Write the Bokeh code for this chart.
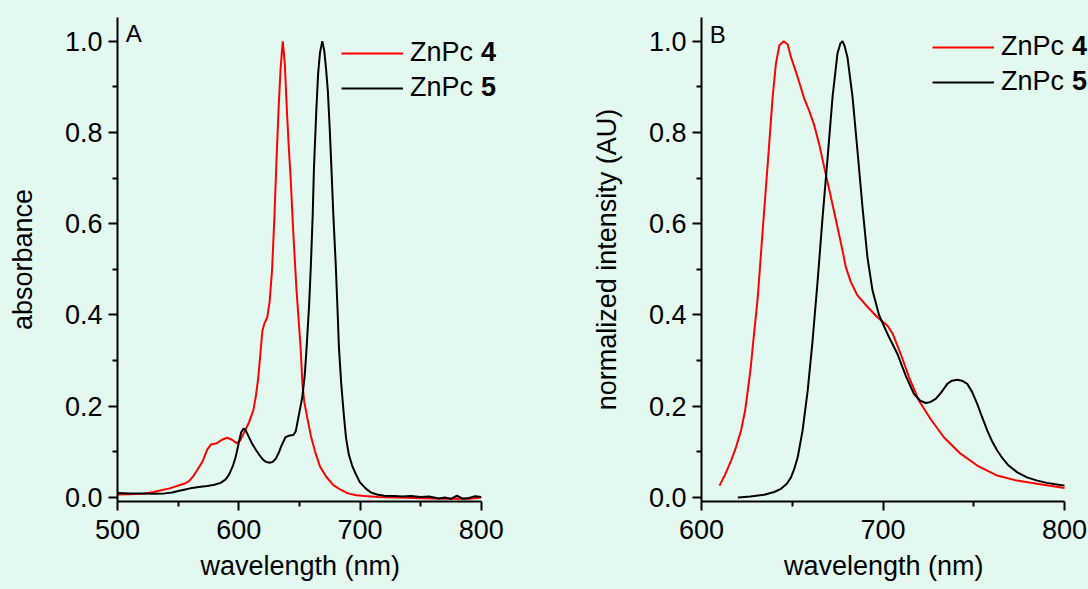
from bokeh.plotting import figure
from bokeh.models import FixedTicker, PrintfTickFormatter, Legend, LegendItem, Label, Range1d
from bokeh.layouts import row
from bokeh.embed import file_html
from bokeh.resources import INLINE

# ---------------- data ----------------
# Panel A: absorbance
abs_wl_4 = [500, 510, 521, 530, 536, 543, 549, 555, 559, 562, 565, 570, 574, 577, 582, 586.5, 590.5, 594,
            598.3, 601, 604, 608.5, 612, 614, 616, 618, 619.5, 621, 623.5, 625.5, 627.5, 629.5, 631, 633,
            634.5, 636.3, 638, 639.5, 641, 642.8, 645, 647.5, 651, 652.5, 654, 656.5, 659.5, 663, 667, 672,
            678, 684, 690, 697, 704, 715, 730, 745, 760, 770, 780, 790, 800]
abs_4 = [0.0066, 0.007, 0.008, 0.012, 0.016, 0.020, 0.025, 0.030, 0.036, 0.045, 0.057, 0.078, 0.105, 0.116,
         0.119, 0.127, 0.131, 0.127, 0.119, 0.124, 0.140, 0.165, 0.191, 0.220, 0.26, 0.32, 0.365, 0.38,
         0.395, 0.43, 0.50, 0.62, 0.73, 0.86, 0.94, 1.0, 0.95, 0.86, 0.78, 0.70, 0.58, 0.46, 0.33, 0.25,
         0.21, 0.175, 0.135, 0.10, 0.068, 0.046, 0.027, 0.017, 0.009, 0.005, 0.003, 0.001, 0.0, -0.001,
         -0.002, -0.003, -0.002, -0.003, 0.0]

abs_wl_5 = [500, 510, 521, 530, 539, 545, 550, 555, 560, 567, 574, 580, 585, 589, 592, 595, 597.5, 600, 602,
            604, 605.5, 607, 611, 614, 617, 620, 622.5, 625.5, 628, 630.5, 633, 635, 638.5, 642, 645, 647,
            649.5, 652.4, 654.5, 656, 658, 659.5, 661, 662, 664, 665.5, 667, 668.9, 670.5, 672, 673.5, 675,
            676.3, 678, 680, 681.5, 682.6, 684.5, 686.7, 688.5, 690.8, 693.5, 696.4, 700, 704.6, 709, 714,
            720, 728, 735, 742, 750, 757, 765, 770, 775, 780, 785, 790, 795, 800]
abs_5 = [0.010, 0.009, 0.009, 0.008, 0.009, 0.011, 0.014, 0.017, 0.020, 0.023, 0.025, 0.028, 0.032, 0.039,
         0.050, 0.068, 0.089, 0.120, 0.143, 0.151, 0.148, 0.140, 0.118, 0.105, 0.093, 0.083, 0.078, 0.076,
         0.078, 0.085, 0.098, 0.112, 0.132, 0.136, 0.137, 0.145, 0.18, 0.22, 0.27, 0.33, 0.42, 0.51, 0.62,
         0.72, 0.85, 0.93, 0.975, 1.0, 0.98, 0.94, 0.89, 0.81, 0.73, 0.62, 0.51, 0.41, 0.33, 0.25, 0.18,
         0.13, 0.094, 0.07, 0.052, 0.033, 0.020, 0.011, 0.0066, 0.004, 0.003, 0.002, 0.003, 0.001, 0.002,
         -0.002, 0.0, -0.003, 0.004, -0.003, -0.001, 0.003, 0.001]

# Panel B: normalized emission
em_wl_4 = [609.9, 613, 616.3, 619, 621.8, 624, 625.5, 627, 628.2, 631, 633.7, 636.5, 639.2, 641, 642.9, 645.3,
           647.5, 649.3, 651, 653, 656.6, 659.3, 662.1, 664.8, 667.6, 671.3, 674.9, 677.7, 679.5, 682.3,
           685.9, 691.4, 696.9, 702.4, 705.2, 709.7, 714.3, 719.8, 726.2, 733.5, 742.7, 751.9, 762.9, 773.8,
           784.8, 800]
em_4 = [0.026, 0.05, 0.081, 0.11, 0.147, 0.19, 0.234, 0.28, 0.329, 0.439, 0.585, 0.732, 0.878, 0.951, 0.991,
        1.0, 0.993, 0.965, 0.945, 0.921, 0.874, 0.848, 0.816, 0.775, 0.724, 0.658, 0.593, 0.541, 0.505, 0.472,
        0.443, 0.418, 0.395, 0.377, 0.36, 0.315, 0.264, 0.212, 0.172, 0.132, 0.096, 0.070, 0.048, 0.037,
        0.030, 0.021]

em_wl_5 = [620, 627, 634.6, 640, 643.8, 647, 649.3, 651.3, 653, 655.7, 658.5, 661.2, 664, 666.7, 669.5, 672.2,
           674.9, 676.5, 677.7, 678.8, 680.4, 683.2, 685.9, 688.7, 691.4, 694.2, 697.8, 702.4, 707.9, 712.5,
           717, 720.5, 723.5, 726, 729, 732, 735.4, 738, 740.9, 743.5, 746.4, 749, 751.9, 754.5, 757.4, 760,
           762.9, 766, 769.2, 774, 779.3, 785, 790.3, 795, 800]
em_5 = [0.0, 0.002, 0.006, 0.012, 0.019, 0.03, 0.044, 0.065, 0.088, 0.147, 0.234, 0.344, 0.476, 0.614, 0.746,
        0.878, 0.973, 0.995, 1.0, 0.99, 0.965, 0.878, 0.761, 0.636, 0.527, 0.454, 0.40, 0.359, 0.315, 0.267,
        0.227, 0.212, 0.207, 0.209, 0.216, 0.23, 0.249, 0.256, 0.258, 0.256, 0.249, 0.232, 0.205, 0.177,
        0.147, 0.124, 0.103, 0.085, 0.070, 0.055, 0.044, 0.037, 0.032, 0.029, 0.026]

y_ticks = [0.0, 0.2, 0.4, 0.6, 0.8, 1.0]
y_minor = [0.1, 0.3, 0.5, 0.7, 0.9]
xa_ticks = [500, 600, 700, 800]
xa_minor = [550, 650, 750]
xb_ticks = [600, 700, 800]
xb_minor = [650, 750]
series_names = ["ZnPc", "ZnPc"]
series_ids = ["4", "5"]
x_title = "wavelength (nm)"

BG = "#e3f8ee"
FONT = "Liberation Sans"
RED = "#ff0000"
BLACK = "#000000"
NBSP = "\u00a0"


def make_fig(width, bl, br, xr, xbounds, xticks, xminor, ylabel):
    # the frame reaches a little past the x axis end so the legend text is not clipped
    p = figure(width=width, height=589, output_backend="svg", toolbar_location=None,
               x_range=Range1d(*xr), y_range=Range1d(-0.0088, 1.052),
               min_border_left=bl, min_border_right=br, min_border_top=17, min_border_bottom=88)
    p.background_fill_color = BG
    p.border_fill_color = BG
    p.outline_line_color = None
    p.grid.visible = False
    p.xaxis.ticker = FixedTicker(ticks=xticks, minor_ticks=xminor)
    p.xaxis.bounds = xbounds
    p.yaxis.ticker = FixedTicker(ticks=y_ticks, minor_ticks=y_minor)
    p.yaxis.formatter = PrintfTickFormatter(format="%.1f")
    # trailing no-break spaces re-centre the title under the visible axis span
    p.xaxis.axis_label = x_title + NBSP * 3
    p.yaxis.axis_label = ylabel
    for ax in (p.xaxis[0], p.yaxis[0]):
        ax.axis_line_width = 2
        ax.axis_line_color = "black"
        ax.major_tick_line_width = 2
        ax.minor_tick_line_width = 2
        ax.major_tick_line_color = "black"
        ax.minor_tick_line_color = "black"
        ax.major_tick_out = 9
        ax.major_tick_in = 0
        ax.minor_tick_out = 5
        ax.minor_tick_in = 0
        ax.major_label_text_font = FONT
        ax.major_label_text_font_size = "27px"
        ax.major_label_text_color = "black"
        ax.axis_label_text_font = FONT
        ax.axis_label_text_font_size = "27px"
        ax.axis_label_text_font_style = "normal"
        ax.axis_label_text_color = "black"
    p.xaxis.major_label_standoff = 9
    p.xaxis.axis_label_standoff = 9
    p.yaxis.major_label_standoff = 6
    p.yaxis.axis_label_standoff = 24
    return p


def add_legend(p, r4, r5, lx, ly):
    common = dict(orientation="vertical", glyph_height=20, spacing=4, padding=0, margin=0,
                  label_text_font=FONT, label_text_font_size="27px", label_text_color="black",
                  background_fill_alpha=0, border_line_alpha=0)
    leg = Legend(items=[LegendItem(label=series_names[0], renderers=[r4]),
                        LegendItem(label=series_names[1], renderers=[r5])],
                 location=(lx, ly), glyph_width=62, label_standoff=7, **common)
    p.add_layout(leg)
    # bold compound numbers following "ZnPc "
    leg2 = Legend(items=[LegendItem(label=series_ids[0], renderers=[r4]),
                         LegendItem(label=series_ids[1], renderers=[r5])],
                  location=(lx + 140, ly), glyph_width=0, label_standoff=0,
                  label_text_font_style="bold", **common)
    p.add_layout(leg2)


# ---------- Panel A ----------
pA = make_fig(588, 117, 83, (500, 820), (500, 800), xa_ticks, xa_minor, "absorbance")
rA4 = pA.line(abs_wl_4, abs_4, line_color=RED, line_width=2)
rA5 = pA.line(abs_wl_5, abs_5, line_color=BLACK, line_width=2)
add_legend(pA, rA4, rA5, 224, 398)
pA.add_layout(Label(x=506.8, y=1.016, text="A", text_font=FONT, text_font_size="24px",
                    text_baseline="alphabetic", text_color="black"))

# ---------- Panel B ----------
pB = make_fig(500, 112, 0, (600, 813.2), (600, 800), xb_ticks, xb_minor, "normalized intensity (AU)")
rB4 = pB.line(em_wl_4, em_4, line_color=RED, line_width=2)
rB5 = pB.line(em_wl_5, em_5, line_color=BLACK, line_width=2)
add_legend(pB, rB4, rB5, 231, 404)
pB.add_layout(Label(x=604.6, y=1.015, text="B", text_font=FONT, text_font_size="24px",
                    text_baseline="alphabetic", text_color="black"))

layout = row(pA, pB)
html = file_html(layout, INLINE)
html = html.replace("</head>", "<style>html, body { background-color: %s; }</style></head>" % BG, 1)
open("out.html", "w").write(html)
